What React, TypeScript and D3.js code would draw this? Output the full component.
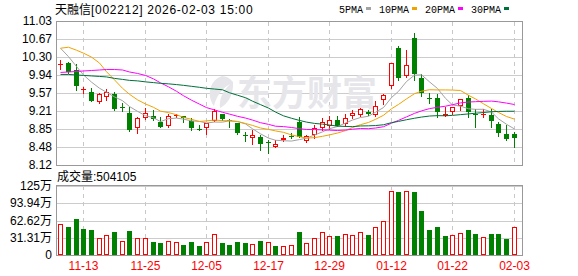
import React from 'react';
import * as d3 from 'd3';

const titleName = '天融信';
const titleRest = '[002212] 2026-02-03 15:00';
const volumeLabel = '成交量:504105';
const watermark = '东方财富';

const dates = [
  '11-10','11-11','11-12','11-13','11-14','11-17','11-18','11-19','11-20','11-21',
  '11-24','11-25','11-26','11-27','11-28','12-01','12-02','12-03','12-04','12-05',
  '12-08','12-09','12-10','12-11','12-12','12-15','12-16','12-17','12-18','12-19',
  '12-22','12-23','12-24','12-25','12-26','12-29','12-30','12-31','01-05','01-06',
  '01-07','01-08','01-09','01-12','01-13','01-14','01-15','01-16','01-19','01-20',
  '01-21','01-22','01-23','01-26','01-27','01-28','01-29','01-30','02-02','02-03',
];

const opens = [
  10.16, 10.19, 10.04, 9.65, 9.60, 9.39, 9.50, 9.55, 9.30, 9.165,
  8.86, 9.06, 9.11, 8.995, 8.91, 9.11, 9.12, 9.015, 8.85, 8.86,
  9.015, 9.15, 9.03, 8.96, 8.73, 8.67, 8.69, 8.58, 8.49, 8.62,
  8.71, 8.995, 8.61, 8.72, 8.86, 8.905, 9.03, 8.95, 9.12, 9.14,
  9.20, 9.13, 9.43, 9.72, 10.48, 9.92, 10.68, 9.87, 9.47, 9.48,
  9.11, 9.185, 9.31, 9.47, 9.15, 9.14, 9.13, 8.95, 8.74, 8.75,
];
const highs = [
  10.24, 10.21, 10.16, 9.70, 9.67, 9.58, 9.66, 9.60, 9.38, 9.29,
  9.10, 9.27, 9.23, 9.08, 9.145, 9.145, 9.12, 9.06, 8.92, 8.97,
  9.25, 9.15, 9.04, 8.97, 8.78, 8.83, 8.73, 8.62, 8.625, 8.72,
  8.77, 9.10, 8.73, 8.92, 9.07, 9.11, 9.11, 9.145, 9.23, 9.27,
  9.23, 9.42, 9.555, 10.18, 10.525, 10.44, 10.78, 9.95, 9.58, 9.555,
  9.30, 9.29, 9.46, 9.535, 9.245, 9.245, 9.245, 8.995, 8.93, 8.79,
];
const lows = [
  10.05, 9.985, 9.64, 9.58, 9.42, 9.37, 9.43, 9.23, 9.22, 8.81,
  8.76, 9.05, 9.03, 8.89, 8.89, 9.08, 8.995, 8.83, 8.83, 8.74,
  9.01, 9.03, 8.88, 8.75, 8.60, 8.54, 8.42, 8.37, 8.49, 8.61,
  8.67, 8.69, 8.58, 8.67, 8.83, 8.84, 8.91, 8.91, 9.06, 9.12,
  9.13, 9.12, 9.35, 9.68, 9.84, 9.89, 9.84, 9.51, 9.37, 9.10,
  9.11, 9.15, 9.23, 9.10, 8.89, 9.10, 8.88, 8.71, 8.625, 8.49,
];
const closes = [
  10.17, 10.005, 9.72, 9.66, 9.42, 9.55, 9.60, 9.25, 9.28, 8.83,
  9.06, 9.165, 9.04, 8.89, 9.12, 9.125, 9.06, 8.86, 8.84, 8.96,
  9.22, 9.05, 9.00, 8.76, 8.72, 8.73, 8.54, 8.57, 8.54, 8.67,
  8.70, 8.69, 8.71, 8.86, 8.99, 9.02, 8.91, 9.06, 9.165, 9.245,
  9.145, 9.32, 9.53, 10.175, 9.87, 10.14, 9.96, 9.57, 9.46, 9.20,
  9.145, 9.29, 9.45, 9.20, 9.14, 9.15, 9.015, 8.76, 8.65, 8.665,
];
// volume in 万 shares
const volumes = [
  55.7, 50.8, 65.3, 47.2, 45.4, 30.2, 35.7, 41.7, 25.4, 43.6,
  30.2, 30.2, 24.2, 22.4, 25.4, 23.6, 18.2, 23.6, 16.3, 23.6,
  37.5, 22.4, 18.2, 23.6, 22.4, 19.4, 25.4, 23.6, 16.3, 15.7,
  17.5, 41.7, 21.2, 31.4, 41.2, 33.9, 34.5, 37.5, 35.7, 41.2,
  36.3, 50.2, 61.1, 115.6, 114.3, 115.6, 114.3, 79.9, 45.4, 50.8,
  34.5, 36.3, 39.9, 45.4, 38.1, 32.1, 38.1, 38.1, 29.0, 50.41,
];

const ma5Lead = [10.48, 10.31, 10.11, 9.94];
const ma10Lead = [10.48, 10.50, 10.44, 10.38, 10.30, 10.18, 10.005, 9.84, 9.67];
const ma20Lead = [9.99, 10.00, 10.01, 10.02, 10.03, 10.04, 10.05, 10.05, 10.04, 10.00,
  9.97, 9.93, 9.86, 9.78, 9.70, 9.61, 9.52, 9.43, 9.35];
const ma30Lead = [9.95, 9.95, 9.94, 9.93, 9.92, 9.91, 9.90, 9.87, 9.85, 9.83,
  9.82, 9.80, 9.785, 9.77, 9.76, 9.745, 9.73, 9.71, 9.69, 9.67,
  9.655, 9.64, 9.58, 9.53, 9.48, 9.41, 9.34, 9.27, 9.19];

const maPeriods = [5, 10, 20, 30];
const maLeads = [ma5Lead, ma10Lead, ma20Lead, ma30Lead];
const maNames = ['5PMA', '10PMA', '20PMA', '30PMA'];
const maColors = ['#a3a3a3', '#f2a200', '#ff00ff', '#00703a'];

const priceTicks = [8.12, 8.48, 8.85, 9.21, 9.57, 9.94, 10.30, 10.67, 11.03];
const priceTickLabels = ['8.12', '8.48', '8.85', '9.21', '9.57', '9.94', '10.30', '10.67', '11.03'];
const volTicks = [0, 31.31, 62.62, 93.94, 125.25];
const volTickLabels = ['0', '31.31万', '62.62万', '93.94万', '125万'];
const dateTicks = ['11-13', '11-25', '12-05', '12-17', '12-29', '01-12', '01-22', '02-03'];

const W = 578, H = 276;
const LEFT = 56, RIGHT = 522;
const RED = '#ff0000', GREEN = '#008000';
const FONT = 'Liberation Sans, Arial, Noto Sans CJK SC, sans-serif';

export default function App() {
  const x = d3.scaleBand<string>().domain(dates).range([56.5, 517.5]).padding(0);
  const bw = x.bandwidth();
  const cx = (d: string) => Math.round((x(d) as number) + bw / 2);
  const y = d3.scaleLinear().domain([8.12, 11.03]).range([165, 21]);
  const yv = d3.scaleLinear().domain([0, 125.25]).range([255, 186]);

  const mas = maPeriods.map((p, k) =>
    closes.map((_, i) => (i >= p - 1 ? (d3.mean(closes.slice(i - p + 1, i + 1)) as number) : maLeads[k][i]))
  );
  const line = d3.line<number>().x((_, i) => cx(dates[i]) + 0.5).y((v) => y(v));

  const snap = (v: number) => Math.round(v) + 0.5;

  let lx = 339;
  const legend = maNames.map((n, k) => {
    const tw = n.length * 6;
    const item = { name: n, x: lx, tw, sx: lx + tw + 3, color: maColors[k] };
    lx = lx + tw + 16;
    return item;
  });

  return (
    <svg width={W} height={H} style={{ position: 'absolute', left: 0, top: 0, background: '#fff' }} fontFamily={FONT}>
      <rect x={0} y={0} width={W} height={H} fill="#fff" />
      <text x={55} y={14} fontSize={12} fill="#000" fontFamily="Noto Sans CJK SC, sans-serif">{titleName}</text>
      <text x={91} y={14} fontSize={12} fill="#000" style={{ letterSpacing: '0.7px' }}>{titleRest}</text>
      {legend.map((it) => (
        <g key={it.name}>
          <text x={it.x} y={13} fontSize={11} fill="#000" fontFamily="Liberation Mono, monospace"
            textLength={it.tw} lengthAdjust="spacingAndGlyphs">{it.name}</text>
          <rect x={it.sx} y={7} width={5} height={3} fill={it.color} />
        </g>
      ))}

      {priceTicks.map((t) => (
        <line key={'pg' + t} x1={LEFT} x2={RIGHT} y1={snap(y(t))} y2={snap(y(t))} stroke="#cccccc" />
      ))}
      {volTicks.map((t) => (
        <line key={'vg' + t} x1={LEFT} x2={RIGHT} y1={snap(yv(t))} y2={snap(yv(t))} stroke="#cccccc" />
      ))}
      {dateTicks.map((d) => (
        <g key={'dg' + d}>
          <line x1={cx(d) + 0.5} x2={cx(d) + 0.5} y1={22} y2={165} stroke="#c8c8c8" strokeDasharray="4,4" />
          <line x1={cx(d) + 0.5} x2={cx(d) + 0.5} y1={186} y2={255} stroke="#c8c8c8" strokeDasharray="4,4" />
        </g>
      ))}

      <g fill="#e6e6ea">
        <path d="M222,76 C210,80 206,95 214,106 C216,98 220,90 230,84 C222,92 219,100 220,108 C228,104 234,94 233,82 C230,78 226,76 222,76 Z" />
        <text x={237} y={106} fontSize={35} fontWeight={700} fontFamily="Noto Sans CJK SC, sans-serif">{watermark}</text>
      </g>

      <rect x={56.5} y={21.5} width={RIGHT - 56} height={144} fill="none" stroke="#999" />
      <rect x={56.5} y={185.5} width={RIGHT - 56} height={70} fill="none" stroke="#999" />

      {dates.map((d, i) => {
        const o = opens[i], h = highs[i], l = lows[i], c = closes[i];
        const px = cx(d);
        const yH = Math.round(y(h)), yL = Math.round(y(l));
        const yO = Math.round(y(o)), yC = Math.round(y(c));
        const top = Math.min(yO, yC), bot = Math.max(yO, yC);
        const up = c >= o;
        const col = up ? RED : GREEN;
        const hollow = up && bot - top >= 3;
        return (
          <g key={'c' + d}>
            <line x1={px + 0.5} x2={px + 0.5} y1={yH} y2={yL + 1} stroke={col} />
            {hollow ? (
              <rect x={px - 1.5} y={top + 0.5} width={4} height={bot - top - 1} fill="#fff" stroke={col} />
            ) : (
              <rect x={px - 2} y={top} width={5} height={Math.max(bot - top, 1)} fill={col} />
            )}
          </g>
        );
      })}

      {mas.map((m, k) => (
        <path key={'ma' + k} d={line(m) as string} fill="none" stroke={maColors[k]} strokeWidth={1} />
      ))}

      <text x={57} y={181} fontSize={12} fill="#000">{volumeLabel}</text>
      {dates.map((d, i) => {
        const up = i === 0 ? closes[i] >= opens[i] : closes[i] >= closes[i - 1];
        const px = cx(d);
        const top = Math.round(yv(volumes[i]));
        const base = Math.round(yv(0));
        return up ? (
          <rect key={'v' + d} x={px - 1.5} y={top + 0.5} width={4} height={base - top - 1} fill="#fff" stroke={RED} />
        ) : (
          <rect key={'v' + d} x={px - 2} y={top} width={5} height={base - top} fill={GREEN} />
        );
      })}

      {priceTicks.map((t, k) => (
        <text key={'pl' + t} x={52} y={y(t)} dy="0.35em" textAnchor="end" fontSize={12} fill="#000">{priceTickLabels[k]}</text>
      ))}
      {volTicks.map((t, k) => (
        <text key={'vl' + t} x={52} y={yv(t)} dy="0.35em" textAnchor="end" fontSize={12} fill="#000">{volTickLabels[k]}</text>
      ))}
      {dateTicks.map((d) => (
        <text key={'dl' + d} x={cx(d) + 0.5} y={270} textAnchor="middle" fontSize={12} fill={RED}>{d}</text>
      ))}
    </svg>
  );
}
